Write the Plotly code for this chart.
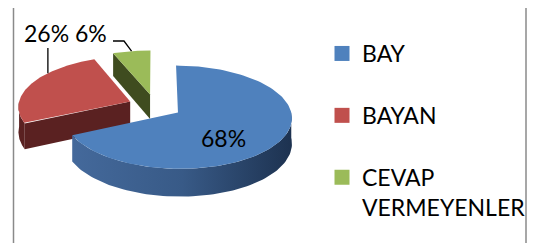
import numpy as np
import plotly.graph_objects as go

# ---- data ----
categories = ["BAY", "BAYAN", "CEVAP<br>VERMEYENLER"]
values = [68, 26, 6]
pct_labels = ["68%", "26%", "6%"]

# ---- style ----
top_colors = ["#4F81BD", "#C0504D", "#9BBB59"]
side_colors = ["#385a87", "#5a2121", "#3f4c1f"]
blue_side_scale = [[0, "#44699b"], [0.5, "#385a87"], [1, "#1d3250"]]
pull = 0.24
WIN_W, WIN_H = 535, 243
OFF = 8                      # page body margin in the browser
W, H = WIN_W - OFF, WIN_H - OFF
CX, CY = 155.0, 106.0      # pie centre (screen px)
A, B = 112.0, 50.0         # ellipse semi-axes (px)
DEPTH = 25.0
PERSP = 0.09
FONT = "Lato"

def proj(X, Y, Z=0.0):
    s = 1.0 / (1.0 + PERSP * Y)
    return CX + A * X * s, CY - B * Y * s + DEPTH * Z * s

tot = float(sum(values))
bounds = np.concatenate([[0.0], np.cumsum(values) / tot * 360.0])

fig = go.Figure()

slices = []
for i, v in enumerate(values):
    t1, t2 = bounds[i], bounds[i + 1]
    tm = np.radians((t1 + t2) / 2)
    ox, oy = pull * np.sin(tm), pull * np.cos(tm)
    slices.append((i, t1, t2, ox, oy))

# back-to-front
order = sorted(slices, key=lambda s: -s[4])

def add_poly(xs, ys, color, grad=None):
    kw = dict(fillcolor=color)
    if grad is not None:
        kw = dict(fillgradient=dict(type="horizontal", colorscale=grad))
    fig.add_trace(go.Scatter(x=xs, y=ys, mode="lines", fill="toself",
                             line=dict(width=0, color=color), hoverinfo="skip",
                             showlegend=False, **kw))

for (i, t1, t2, ox, oy) in order:
    # radial faces
    for ang, sgn in ((t1, -1), (t2, 1)):
        nrm = np.radians(ang + sgn * 90)
        if np.cos(nrm) < -1e-3:
            r = np.radians(ang)
            pts = [(ox, oy, 0), (ox + np.sin(r), oy + np.cos(r), 0),
                   (ox + np.sin(r), oy + np.cos(r), 1), (ox, oy, 1)]
            xy = [proj(*p) for p in pts]
            add_poly([p[0] for p in xy] + [xy[0][0]], [p[1] for p in xy] + [xy[0][1]],
                     side_colors[i])
    # outer side (front half only)
    lo, hi = max(t1, 90.0), min(t2, 270.0)
    if hi > lo:
        th = np.radians(np.linspace(lo, hi, 80))
        topx, topy = proj(ox + np.sin(th), oy + np.cos(th), 0)
        botx, boty = proj(ox + np.sin(th), oy + np.cos(th), 1)
        xs = np.concatenate([topx, botx[::-1], topx[:1]])
        ys = np.concatenate([topy, boty[::-1], topy[:1]])
        add_poly(xs, ys, side_colors[i], blue_side_scale if i == 0 else None)
    # top face
    th = np.radians(np.linspace(t1, t2, 120))
    ax, ay = proj(ox, oy, 0)
    rx, ry = proj(ox + np.sin(th), oy + np.cos(th), 0)
    add_poly(np.concatenate([[ax], rx, [ax]]), np.concatenate([[ay], ry, [ay]]),
             top_colors[i])

# leader lines from label to slice rim
def rim(i, frac):
    _, t1, t2, ox, oy = slices[i]
    r = np.radians(t1 + frac * (t2 - t1))
    return proj(ox + np.sin(r), oy + np.cos(r), 0)

rx1, ry1 = rim(1, 0.67)
fig.add_trace(go.Scatter(x=[rx1, rx1], y=[48, ry1], mode="lines",
                         line=dict(color="black", width=1.3), hoverinfo="skip",
                         showlegend=False))
rx2, ry2 = rim(2, 0.5)
fig.add_trace(go.Scatter(x=[113, 124, rx2], y=[41, 41, ry2], mode="lines",
                         line=dict(color="black", width=1.3), hoverinfo="skip",
                         showlegend=False))

# legend entries
for i, c in enumerate(categories):
    fig.add_trace(go.Scatter(x=[None], y=[None], mode="markers", name=c,
                             legendgroup=f"g{i}",
                             marker=dict(symbol="square", size=15, color=top_colors[i])))

anns = [
    dict(x=223, y=138, text=pct_labels[0]),
    dict(x=46, y=33, text=pct_labels[1]),
    dict(x=91, y=33, text=pct_labels[2]),
]
for a in anns:
    fig.add_annotation(x=a["x"], y=a["y"], text=a["text"], showarrow=False,
                       xref="x", yref="y", font=dict(family=FONT, size=23, color="black"))

fig.add_shape(type="rect", xref="x", yref="y", x0=13.5, y0=7, x1=526, y1=260,
              line=dict(color="#8a8a8a", width=1.5), fillcolor="rgba(0,0,0,0)")

fig.update_layout(
    width=W, height=H,
    margin=dict(l=0, r=0, t=0, b=0, autoexpand=False),
    paper_bgcolor="white", plot_bgcolor="white",
    xaxis=dict(range=[OFF, WIN_W], visible=False, fixedrange=True),
    yaxis=dict(range=[WIN_H, OFF], visible=False, fixedrange=True),
    showlegend=True,
    legend=dict(x=(322 - OFF) / W, xanchor="left", y=1 - (32 - OFF) / H, yanchor="top",
                font=dict(family=FONT, size=23, color="black"),
                tracegroupgap=29, traceorder="grouped", valign="top",
                bgcolor="rgba(0,0,0,0)"),
)

fig.write_html("out.html")
